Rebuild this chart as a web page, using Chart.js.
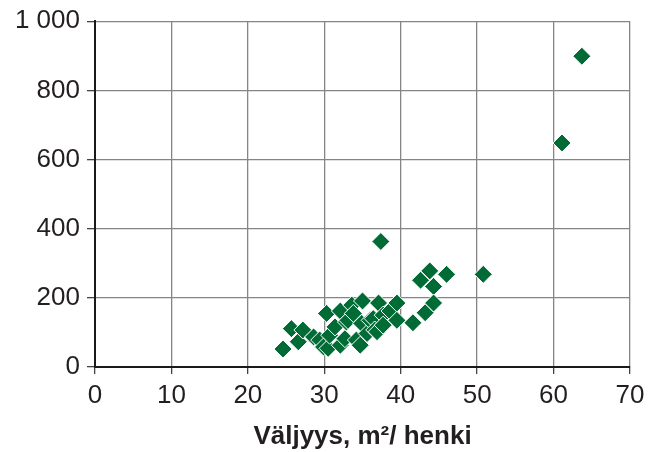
<!DOCTYPE html>
<html>
<head>
<meta charset="utf-8">
<script src="https://cdn.jsdelivr.net/npm/chart.js@4"></script>
<style>
  html, body { margin: 0; padding: 0; background: #fff; }
  #wrap { width: 663px; height: 452px; }
</style>
</head>
<body>
<div id="wrap"><canvas id="scatterChart" width="663" height="452"></canvas></div>
<script>
// Asumisväljyys (x) ja arvo (y) kunnittain
const spaceValues = [24.6, 25.7, 26.6, 27.2, 28.6, 29.4, 29.9, 30.3, 30.5, 30.7, 31.4, 32.1, 32.1, 32.7, 32.9,
    33.1, 33.6, 33.8, 34.2, 34.7, 34.9, 35.0, 35.6, 36.0, 36.4, 36.6, 36.9, 37.1, 37.4, 37.7, 37.7,
    38.6, 39.5, 39.5, 41.6, 42.6, 43.2, 43.8, 44.3, 44.3, 46.0, 50.8, 61.1, 63.7];
const amountValues = [52, 111, 73, 107, 87, 78, 58, 155, 54, 92, 116, 162, 63, 82, 130,
    135, 179, 155, 78, 63, 126, 191, 97, 135, 140, 107, 102, 185, 363, 150, 121,
    162, 185, 135, 128, 251, 157, 278, 233, 185, 268, 268, 648, 899];
const xTicks = [0, 10, 20, 30, 40, 50, 60, 70];
const yTicks = [0, 200, 400, 600, 800, 1000];
const xTitle = 'Väljyys, m²/ henki';

const points = spaceValues.map((x, i) => ({ x: x, y: amountValues[i] }));

const textColor = '#231f20';
const gridColor = '#858585';
const fontFamily = 'Liberation Sans, Arial, sans-serif';

let ctx = document.getElementById('scatterChart').getContext('2d');
let chart = new Chart(ctx, {
    type: 'scatter',
    data: {
        datasets: [{
            data: points,
            pointStyle: 'rectRot',
            pointRadius: 9,
            pointHoverRadius: 9,
            backgroundColor: '#006b35',
            borderColor: '#ffffff',
            borderWidth: 1
        }]
    },
    options: {
        responsive: false,
        animation: false,
        layout: { padding: { top: 0, right: 33, left: 0, bottom: 0 } },
        plugins: {
            legend: { display: false },
            tooltip: { enabled: false }
        },
        scales: {
            x: {
                type: 'linear',
                min: xTicks[0],
                max: xTicks[xTicks.length - 1],
                afterBuildTicks: s => { s.ticks = xTicks.map(v => ({ value: v })); },
                afterFit: s => { s.height = 85; },
                grid: { color: gridColor, lineWidth: 1.3, tickLength: 7, tickColor: '#444' },
                border: { color: '#1a1a1a', width: 2 },
                ticks: {
                    color: textColor,
                    padding: 6,
                    maxRotation: 0,
                    font: { family: fontFamily, size: 26 }
                },
                title: {
                    display: true,
                    text: xTitle,
                    color: textColor,
                    padding: { top: 9, bottom: 0 },
                    font: { family: fontFamily, size: 26, weight: 'bold' }
                }
            },
            y: {
                type: 'linear',
                min: yTicks[0],
                max: yTicks[yTicks.length - 1],
                afterBuildTicks: s => { s.ticks = yTicks.map(v => ({ value: v })); },
                afterFit: s => { s.width = 95; },
                grid: { color: gridColor, lineWidth: 1.3, tickLength: 8, tickColor: '#444' },
                border: { color: '#1a1a1a', width: 2 },
                ticks: {
                    color: textColor,
                    padding: 7,
                    font: { family: fontFamily, size: 26, lineHeight: 1.1 },
                    callback: v => v >= 1000 ? Math.floor(v / 1000) + ' ' + String(v % 1000).padStart(3, '0') : String(v)
                }
            }
        }
    }
});
</script>
</body>
</html>
